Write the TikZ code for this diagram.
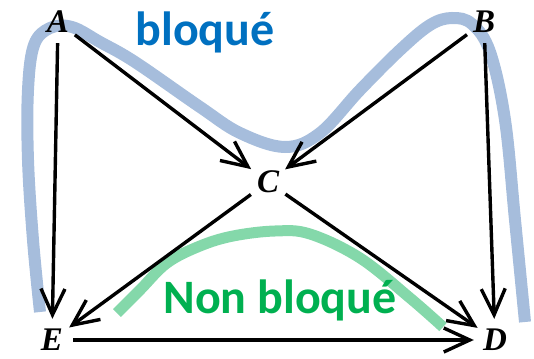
\documentclass[tikz,border=0pt]{standalone}
\usepackage{fontspec}
\setmainfont{Liberation Serif}
\newfontfamily\lblfont{Carlito}
\usetikzlibrary{arrows.meta}
\definecolor{curveblue}{RGB}{166,189,220}
\definecolor{curvegreen}{RGB}{132,216,170}
\definecolor{txtblue}{RGB}{0,112,192}
\definecolor{txtgreen}{RGB}{0,176,80}
\begin{document}
\begin{tikzpicture}[x=1pt,y=-1pt,
  vertex/.style={circle,minimum size=42pt,inner sep=0pt,font=\fontsize{33}{33}\selectfont\bfseries\itshape},
  arr/.style={line width=3.4pt,-{Straight Barb[length=26pt,width=24pt,line width=3.4pt]}},
  curve/.style={line width=12pt,smooth,tension=0.6},
  lbl/.style={font=\lblfont\fontsize{48}{48}\selectfont\bfseries}]
\useasboundingbox (0,0) rectangle (534,358);
% curves
\draw[curve,curveblue] plot coordinates {(40,312) (33,240) (28,160) (28,90) (34,45) (50,28) (72,27) (100,42) (135,62) (200,107) (240,133) (285,147) (320,133) (360,90) (400,50) (430,25) (452,18) (472,24) (490,52) (505,120) (515,220) (525,322)};
\draw[curve,curvegreen,line width=11pt] plot coordinates {(117,313) (140,290) (167,263) (200,246) (233,236) (275,231) (310,234) (360,258) (410,298) (443,327)};
% vertices
\node[vertex] (A) at (58,22) {A};
\node[vertex] (B) at (484,22) {B};
\node[vertex] (C) at (268,182) {C};
\node[vertex] (E) at (52,340) {E};
\node[vertex] (D) at (495,340) {D};
% arrows
\draw[arr] (A) -- (E);
\draw[arr] (A) -- (C);
\draw[arr] (B) -- (C);
\draw[arr] (B) -- (D);
\draw[arr] (C) -- (E);
\draw[arr] (C) -- (D);
\draw[arr] (E) -- (D);
% labels
\node[lbl,text=txtblue] (bl) at (205,32) {bloqué};
\node[lbl,text=txtgreen] (nbl) at (280,300) {Non bloqué};
\end{tikzpicture}
\end{document}
